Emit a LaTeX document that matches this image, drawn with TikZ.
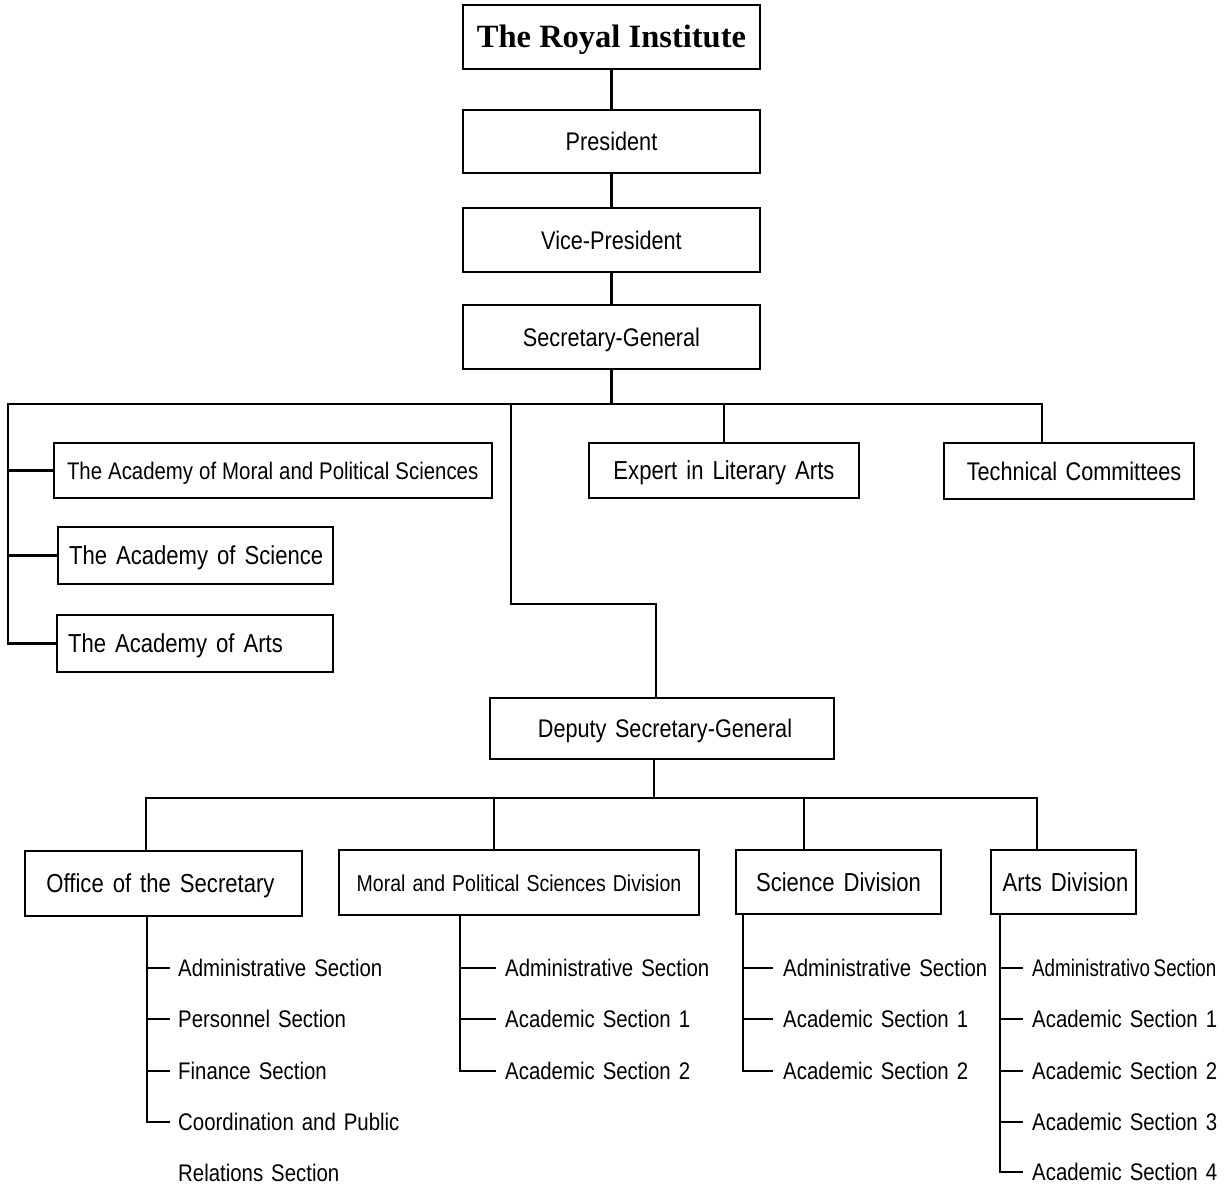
\documentclass[tikz,border=0pt]{standalone}
\usepackage{fontspec}
\setmainfont{Liberation Sans}[FakeStretch=0.85]
\newfontfamily\titlefont{Liberation Serif}
\newcommand\orgfont{\fontsize{24}{28}\selectfont\spaceskip=8pt plus 1pt minus 1pt\relax}
\newcommand\moralfont{\fontsize{24}{28}\selectfont\spaceskip=6pt plus 1pt minus 1pt\relax}
\newcommand\bigorgfont{\fontsize{25.5}{30}\selectfont\spaceskip=8.5pt plus 1pt minus 1pt\relax}
\newcommand\acadfont{\fontsize{26}{30}\selectfont\spaceskip=9pt plus 1pt minus 1pt\relax}
\newcommand\divfont{\fontsize{23}{28}\selectfont\spaceskip=7pt plus 1pt minus 1pt\relax}
\newcommand\headfont{\titlefont\bfseries\fontsize{32.5}{36}\selectfont}
\begin{document}
\begin{tikzpicture}[x=1pt,y=-1pt,
  conn/.style={line width=2.6pt},
  box/.style={draw, line width=2.6pt, inner sep=0pt, text height=18pt, text depth=0pt, font=\bigorgfont},
  lbox/.style={box, inner xsep=11pt},
  sec/.style={anchor=west, inner sep=0pt, text height=17pt, text depth=0pt, font=\orgfont}]
\useasboundingbox[fill=white] (0,0) rectangle (1224,1187);

% top chain
\node[box, minimum width=297pt, minimum height=64pt, text height=21pt, font=\headfont] (royal) at (611.5,37) {The Royal Institute};
\node[box, minimum width=297pt, minimum height=63pt] (pres) at (611.5,141.5) {President};
\node[box, minimum width=297pt, minimum height=64pt] (vice) at (611.5,240) {Vice-President};
\node[box, minimum width=297pt, minimum height=64pt] (secgen) at (611.5,337) {Secretary-General};

\draw[conn] (royal) -- (pres);
\draw[conn] (pres) -- (vice);
\draw[conn] (vice) -- (secgen);

% first bus
\coordinate (busL) at (8,404);
\coordinate (busR) at (1042,404);
\coordinate (dtop) at (511,404);
\coordinate (dmid) at (656,604);

\node[lbox, minimum height=55pt, font=\moralfont] (amoral) at (273,470.5) {\makebox[416pt][l]{\hspace*{2pt}The Academy of Moral and Political Sciences}};
\node[lbox, minimum height=57pt, font=\acadfont] (asci) at (195.5,555.5) {\makebox[253pt][l]{The Academy of Science}};
\node[lbox, minimum height=57pt, font=\acadfont] (aarts) at (195,643.5) {\makebox[254pt][l]{The Academy of Arts}};
\node[box, minimum width=270pt, minimum height=55pt, font=\acadfont] (expert) at (724,470.5) {Expert in Literary Arts};
\node[box, minimum width=250pt, minimum height=56pt] (tech) at (1069,471) {\hspace*{10pt}Technical Committees};

\draw[conn] (secgen) -- (secgen |- busL);
\draw[conn] (aarts.west) -| (busL) -- (busR) -- (busR |- tech.north);
\draw[conn] (busL |- amoral.west) -- (amoral.west);
\draw[conn] (busL |- asci.west) -- (asci.west);
\draw[conn] (expert.north) -- (expert.north |- busL);

% deputy
\node[box, minimum width=344pt, minimum height=61pt] (deputy) at (662,728.5) {\hspace*{6pt}Deputy Secretary-General};
\draw[conn] (dtop) |- (dmid) -- (dmid |- deputy.north);

% second bus
\coordinate (b2L) at (146,798);
\coordinate (b2M) at (494,798);
\coordinate (b2S) at (804,798);
\coordinate (b2R) at (1037,798);
\coordinate (b2D) at (654,798);

\node[box, minimum width=277pt, minimum height=65pt, font=\acadfont] (office) at (163.5,883.5) {Office of the Secretary\hspace*{6pt}};
\node[box, minimum width=360pt, minimum height=65pt, font=\divfont] (mdiv) at (519,882.5) {Moral and Political Sciences Division};
\node[box, minimum width=205pt, minimum height=64pt, font=\acadfont] (sdiv) at (838.5,882) {Science Division};
\node[box, minimum width=145pt, minimum height=64pt, font=\acadfont] (adiv) at (1063.5,882) {\hspace*{4pt}Arts Division};

\draw[conn] (b2D |- deputy.south) -- (b2D);
\draw[conn] (b2L |- office.north) -- (b2L) -- (b2R) -- (b2R |- adiv.north);
\draw[conn] (b2M) -- (b2M |- mdiv.north);
\draw[conn] (b2S) -- (b2S |- sdiv.north);

% office sections
\node[sec] (o1) at (178,968) {Administrative Section};
\node[sec] (o2) at (178,1019) {Personnel Section};
\node[sec] (o3) at (178,1071) {Finance Section};
\node[sec] (o4) at (178,1122) {Coordination and Public};
\node[sec] (o4b) at (178,1173) {Relations Section};
\coordinate (ov) at (147,0);
\draw[conn] (ov |- office.south) |- ([xshift=-8pt]o4.west);
\foreach \n in {o1,o2,o3} \draw[conn] (ov |- \n.west) -- ([xshift=-8pt]\n.west);

% moral sections
\node[sec] (m1) at (505,968) {Administrative Section};
\node[sec] (m2) at (505,1019) {Academic Section 1};
\node[sec] (m3) at (505,1071) {Academic Section 2};
\coordinate (mv) at (460,0);
\draw[conn] (mv |- mdiv.south) |- ([xshift=-9pt]m3.west);
\foreach \n in {m1,m2} \draw[conn] (mv |- \n.west) -- ([xshift=-9pt]\n.west);

% science sections
\node[sec] (s1) at (783,968) {Administrative Section};
\node[sec] (s2) at (783,1019) {Academic Section 1};
\node[sec] (s3) at (783,1071) {Academic Section 2};
\coordinate (sv) at (743,0);
\draw[conn] (sv |- sdiv.south) |- ([xshift=-10pt]s3.west);
\foreach \n in {s1,s2} \draw[conn] (sv |- \n.west) -- ([xshift=-10pt]\n.west);

% arts sections
\node[sec] (r1) at (1032,968) {\scalebox{0.92}[1]{\spaceskip=4pt\relax Administrativo Section}};
\node[sec] (r2) at (1032,1019) {Academic Section 1};
\node[sec] (r3) at (1032,1071) {Academic Section 2};
\node[sec] (r4) at (1032,1122) {Academic Section 3};
\node[sec] (r5) at (1032,1172) {Academic Section 4};
\coordinate (rv) at (1000,0);
\draw[conn] (rv |- adiv.south) |- ([xshift=-9pt]r5.west);
\foreach \n in {r1,r2,r3,r4} \draw[conn] (rv |- \n.west) -- ([xshift=-9pt]\n.west);
\end{tikzpicture}
\end{document}
